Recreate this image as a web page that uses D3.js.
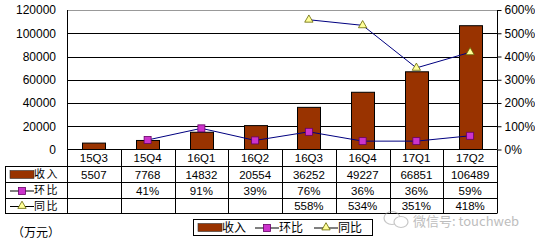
<!DOCTYPE html>
<html><head><meta charset="utf-8">
<script src="https://cdn.jsdelivr.net/npm/d3@7"></script>
<style>body{margin:0;background:#fff}svg{display:block}</style>
</head><body>
<script>
const categories = ["15Q3","15Q4","16Q1","16Q2","16Q3","16Q4","17Q1","17Q2"];
const revenue = [5507,7768,14832,20554,36252,49227,66851,106489];
const qoq = [null,41,91,39,76,36,36,59];
const yoy = [null,null,null,null,558,534,351,418];
const leftTicks = [0,20000,40000,60000,80000,100000,120000];
const rightTicks = [0,100,200,300,400,500,600];
const seriesNames = ["收入","环比","同比"];

const W=535,H=242;
const svg=d3.select("body").append("svg").attr("width",W).attr("height",H);
const x0=67,x1=497,yTop=10,yBot=149.5;
const x=d3.scaleBand().domain(categories).range([x0,x1]);
const yL=d3.scaleLinear().domain([0,120000]).range([yBot,yTop]);
const yR=d3.scaleLinear().domain([0,600]).range([yBot,yTop]);
const numFont="'Liberation Sans', Arial, sans-serif";
const cjkFont="'Noto Sans CJK SC', sans-serif";
const brown="#993300", magenta="#CC33CC", navy="#000080", yellow="#FFFF99";

// gridlines
svg.append("g").selectAll("line").data(leftTicks.filter(d=>d>0)).join("line")
 .attr("x1",x0).attr("x2",x1).attr("y1",d=>Math.round(yL(d))+0.5).attr("y2",d=>Math.round(yL(d))+0.5)
 .attr("stroke",d=>d===120000?"#999":"#000").attr("stroke-width",1);

// left axis labels
const gL=svg.append("g").attr("transform",`translate(${x0},0)`)
 .call(d3.axisLeft(yL).tickValues(leftTicks).tickSize(0).tickPadding(11).tickFormat(d3.format("d")));
gL.select(".domain").remove();
gL.selectAll("text").attr("font-family",numFont).attr("font-size",12).attr("fill","#000");
svg.append("line").attr("x1",x0+0.5).attr("x2",x0+0.5).attr("y1",yTop).attr("y2",213).attr("stroke","#000");

// right axis
const gR=svg.append("g").attr("transform",`translate(${x1+0.5},0)`)
 .call(d3.axisRight(yR).tickValues(rightTicks).tickSize(4).tickPadding(3).tickFormat(d=>d+"%"));
gR.select(".domain").attr("d",`M0,${yTop}V${yBot}`).attr("stroke","#000");
gR.selectAll(".tick line").attr("stroke","#000");
gR.selectAll("text").attr("font-family",numFont).attr("font-size",12).attr("fill","#000");

// bars
const bw=23;
svg.append("g").selectAll("rect").data(revenue).join("rect")
 .attr("x",(d,i)=>Math.round(x(categories[i])+x.bandwidth()/2-bw/2)+0.5)
 .attr("y",d=>yL(d)).attr("width",bw).attr("height",d=>yBot-yL(d))
 .attr("fill",brown).attr("stroke","#000").attr("stroke-width",1);

// axis baseline
svg.append("line").attr("x1",x0).attr("x2",x1).attr("y1",yBot).attr("y2",yBot).attr("stroke","#000");

const cx=i=>x(categories[i])+x.bandwidth()/2;
// qoq line
const qoqPts=qoq.map((v,i)=>({v,i})).filter(d=>d.v!=null);
svg.append("path").datum(qoqPts).attr("fill","none").attr("stroke",navy).attr("stroke-width",1)
 .attr("d",d3.line().x(d=>cx(d.i)).y(d=>yR(d.v)));
svg.append("g").selectAll("rect").data(qoqPts).join("rect")
 .attr("x",d=>cx(d.i)-3.5).attr("y",d=>yR(d.v)-3.5).attr("width",7).attr("height",7)
 .attr("fill",magenta).attr("stroke","#660066").attr("stroke-width",0.8);
// yoy line
const yoyPts=yoy.map((v,i)=>({v,i})).filter(d=>d.v!=null);
svg.append("path").datum(yoyPts).attr("fill","none").attr("stroke",navy).attr("stroke-width",1)
 .attr("d",d3.line().x(d=>cx(d.i)).y(d=>yR(d.v)));
const tri=d3.symbol().type(d3.symbolTriangle).size(30);
svg.append("g").selectAll("path").data(yoyPts).join("path")
 .attr("transform",d=>`translate(${cx(d.i)},${yR(d.v)})`).attr("d",tri)
 .attr("fill",yellow).attr("stroke","#666600").attr("stroke-width",0.8);

// table
const rowY=[149.5,166.5,182.5,198.5,213.5];
const tbl=svg.append("g");
rowY.slice(1).forEach(yy=>tbl.append("line").attr("x1",5).attr("x2",x1).attr("y1",yy).attr("y2",yy).attr("stroke","#000"));
tbl.append("line").attr("x1",5.5).attr("x2",5.5).attr("y1",rowY[1]).attr("y2",rowY[4]).attr("stroke","#000");
categories.forEach((c,i)=>{
  const xx=Math.round(x(c)+x.bandwidth())+0.5;
  tbl.append("line").attr("x1",xx).attr("x2",xx).attr("y1",yBot).attr("y2",rowY[4]).attr("stroke","#000");
});
const cellText=(txt,i,row)=>tbl.append("text").attr("x",cx(i)).attr("y",(rowY[row]+rowY[row+1])/2)
 .attr("dy","0.36em").attr("text-anchor","middle").attr("font-family",numFont).attr("font-size",11.5).text(txt);
categories.forEach((c,i)=>cellText(c,i,0));
revenue.forEach((v,i)=>cellText(v,i,1));
qoq.forEach((v,i)=>{if(v!=null)cellText(v+"%",i,2)});
yoy.forEach((v,i)=>{if(v!=null)cellText(v+"%",i,3)});

// legend keys in table
function key(g,type,xk,yc){
  if(type===0){g.append("rect").attr("x",xk).attr("y",yc-4).attr("width",24).attr("height",8).attr("fill",brown).attr("stroke","#333").attr("stroke-width",0.6);}
  else{
    g.append("line").attr("x1",xk).attr("x2",xk+24).attr("y1",yc+0.5).attr("y2",yc+0.5).attr("stroke","#000");
    if(type===1) g.append("rect").attr("x",xk+8.5).attr("y",yc-3).attr("width",7).attr("height",7).attr("fill",magenta).attr("stroke","#660066").attr("stroke-width",0.8);
    else g.append("path").attr("transform",`translate(${xk+12},${yc})`).attr("d",tri).attr("fill",yellow).attr("stroke","#666600").attr("stroke-width",0.8);
  }
}
seriesNames.forEach((n,r)=>{
  const yc=(rowY[r+1]+rowY[r+2])/2;
  key(tbl,r,10,yc);
  tbl.append("text").attr("x",34).attr("y",yc).attr("dy","0.36em").attr("font-family",cjkFont).attr("font-size",11).attr("letter-spacing",1.5).text(n);
});

// bottom legend
const lg=svg.append("g");
lg.append("rect").attr("x",193.5).attr("y",219.5).attr("width",179).attr("height",16).attr("fill","none").attr("stroke","#000");
const lx=[198,255,314];
seriesNames.forEach((n,r)=>{
  key(lg,r,lx[r],227.5);
  lg.append("text").attr("x",lx[r]+24).attr("y",227.5).attr("dy","0.36em").attr("font-family",cjkFont).attr("font-size",12).text(n);
});

// unit
svg.append("text").attr("x",12).attr("y",233).attr("dy","0.36em").attr("font-family",cjkFont).attr("font-size",12).text("（万元）");

// watermark
const wm=svg.append("g").attr("opacity",0.55);
wm.append("ellipse").attr("cx",392).attr("cy",218).attr("rx",8).attr("ry",6.5).attr("fill","none").attr("stroke","#999").attr("stroke-width",1.2);
wm.append("ellipse").attr("cx",401).attr("cy",222).attr("rx",7).attr("ry",5.5).attr("fill","#fff").attr("stroke","#999").attr("stroke-width",1.2);
wm.append("text").attr("x",413).attr("y",221).attr("dy","0.36em").attr("font-family",cjkFont).attr("font-size",13).attr("fill","#888").text("微信号: touchweb");
</script>
</body></html>
